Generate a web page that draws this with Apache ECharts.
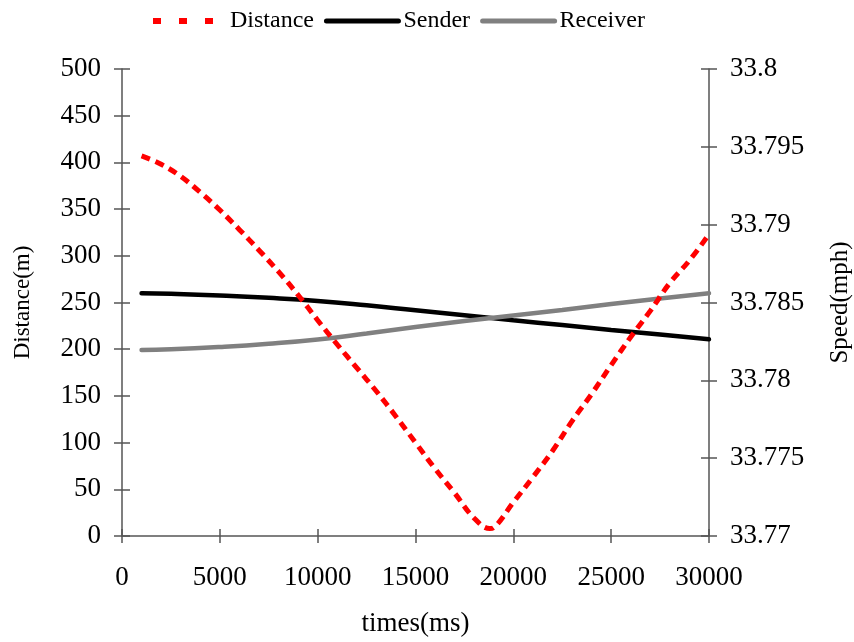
<!DOCTYPE html>
<html>
<head>
<meta charset="utf-8">
<script src="https://cdn.jsdelivr.net/npm/echarts@6/dist/echarts.min.js"></script>
<style>html,body{margin:0;padding:0;background:#fff}#c{width:854px;height:642px}</style>
</head>
<body>
<div id="c"></div>
<script>
// ---- data ----
const seriesNames = ['Distance', 'Sender', 'Receiver'];
const distTimes = [1000,2000,3000,4000,5000,6000,7000,8000,9000,10000,11000,12000,13000,14000,15000,16000,17000,18000,18800,19000,20000,21000,22000,23000,24000,25000,26000,27000,28000,29000,30000];
const distValues = [407,398,385,368,349,328,306,283,258,231,205,180,155,128,100,72,46,19,8,9,36,63,91,123,152,183,213,241,271,295,323];
const speedTimes = [1000,2500,5000,7500,10000,12500,15000,17500,20000,22500,25000,27500,30000];
const senderSpeed = [33.78560,33.78556,33.78545,33.78530,33.78510,33.78482,33.78450,33.78418,33.78386,33.78355,33.78324,33.78294,33.78264];
const receiverSpeed = [33.78195,33.78199,33.78214,33.78235,33.78263,33.78301,33.78342,33.78381,33.78417,33.78452,33.78490,33.78526,33.78559];
const xTicks = {min: 0, max: 30000, interval: 5000};
const yLeftTicks = {min: 0, max: 500, interval: 50};
const yRightTicks = {min: 33.77, max: 33.8, interval: 0.005};

const zip = (a, b) => a.map((v, i) => [v, b[i]]);
const FONT = '"Liberation Serif", "Times New Roman", serif';
const AX = '#555';
const tickStyle = () => ({color: AX, width: 1.5});
const hiddenLine = () => ({show: true, onZero: false, lineStyle: {color: 'rgba(0,0,0,0)', width: 1}});
const blankLabel = () => ({show: true, formatter: () => '', color: 'rgba(0,0,0,0)'});
const gridRect = () => ({left: 122, right: 145, top: 69, bottom: 106, containLabel: false, outerBoundsMode: 'none'});

const chart = echarts.init(document.getElementById('c'));
chart.setOption({
  animation: false,
  backgroundColor: '#fff',
  textStyle: {fontFamily: FONT, color: '#000'},
  legend: {
    left: 145, top: 4, orient: 'horizontal',
    itemWidth: 72, itemHeight: 14, itemGap: 10,
    itemStyle: {opacity: 0},
    textStyle: {fontFamily: FONT, fontSize: 24, color: '#000'},
    data: [
      {name: seriesNames[0], itemStyle: {opacity: 0}, lineStyle: {color: '#ff0000', width: 6, type: [8, 18]}},
      {name: seriesNames[1], itemStyle: {opacity: 0}, lineStyle: {color: '#000', width: 5}},
      {name: seriesNames[2], itemStyle: {opacity: 0}, lineStyle: {color: '#808080', width: 5}}
    ]
  },
  grid: [gridRect()],
  xAxis: [{
    type: 'value', min: xTicks.min, max: xTicks.max, interval: xTicks.interval, position: 'bottom',
    name: 'times(ms)', nameLocation: 'middle', nameGap: 74,
    nameTextStyle: {fontFamily: FONT, fontSize: 27, color: '#000'},
    axisLine: {show: true, onZero: false, lineStyle: tickStyle()},
    axisTick: {show: true, inside: false, length: 7, lineStyle: tickStyle()},
    axisLabel: {fontFamily: FONT, fontSize: 27, color: '#000', margin: 28, formatter: v => String(v)},
    splitLine: {show: false}
  }, {
    type: 'value', min: xTicks.min, max: xTicks.max, interval: xTicks.interval, position: 'bottom',
    axisLine: hiddenLine(), axisLabel: blankLabel(), splitLine: {show: false},
    axisTick: {show: true, inside: true, length: 7, lineStyle: tickStyle()}
  }],
  yAxis: [{
    type: 'value', position: 'left', min: yLeftTicks.min, max: yLeftTicks.max, interval: yLeftTicks.interval,
    name: 'Distance(m)', nameLocation: 'middle', nameGap: 88, nameRotate: 90,
    nameTextStyle: {fontFamily: FONT, fontSize: 23, color: '#000'},
    axisLine: {show: true, onZero: false, lineStyle: tickStyle()},
    axisTick: {show: true, inside: false, length: 8, lineStyle: tickStyle()},
    axisLabel: {fontFamily: FONT, fontSize: 27, color: '#000', margin: 21},
    splitLine: {show: false}
  }, {
    type: 'value', position: 'right', min: yRightTicks.min, max: yRightTicks.max, interval: yRightTicks.interval,
    name: 'Speed(mph)', nameLocation: 'middle', nameGap: 119, nameRotate: 90,
    nameTextStyle: {fontFamily: FONT, fontSize: 25, color: '#000'},
    axisLine: {show: true, onZero: false, lineStyle: tickStyle()},
    axisTick: {show: true, inside: false, length: 8, lineStyle: tickStyle()},
    axisLabel: {fontFamily: FONT, fontSize: 27, color: '#000', margin: 21, formatter: v => String(+v.toFixed(3))},
    splitLine: {show: false}
  }, {
    type: 'value', position: 'left', min: yLeftTicks.min, max: yLeftTicks.max, interval: yLeftTicks.interval,
    axisLine: hiddenLine(), axisLabel: blankLabel(), splitLine: {show: false},
    axisTick: {show: true, inside: true, length: 8, lineStyle: tickStyle()}
  }, {
    type: 'value', position: 'right', min: yRightTicks.min, max: yRightTicks.max, interval: yRightTicks.interval,
    axisLine: hiddenLine(), axisLabel: blankLabel(), splitLine: {show: false},
    axisTick: {show: true, inside: true, length: 8, lineStyle: tickStyle()}
  }],
  series: [{
    name: seriesNames[0], type: 'line', xAxisIndex: 0, yAxisIndex: 0,
    data: zip(distTimes, distValues), showSymbol: false, symbol: 'none', smooth: 0.4, z: 3,
    itemStyle: {color: '#ff0000'},
    lineStyle: {color: '#ff0000', width: 5, type: [9, 6]}
  }, {
    name: seriesNames[1], type: 'line', xAxisIndex: 0, yAxisIndex: 1,
    data: zip(speedTimes, senderSpeed), showSymbol: false, symbol: 'none', smooth: true, z: 2,
    itemStyle: {color: '#000'},
    lineStyle: {color: '#000', width: 4.5, cap: 'round'}
  }, {
    name: seriesNames[2], type: 'line', xAxisIndex: 0, yAxisIndex: 1,
    data: zip(speedTimes, receiverSpeed), showSymbol: false, symbol: 'none', smooth: true, z: 2,
    itemStyle: {color: '#808080'},
    lineStyle: {color: '#808080', width: 4.5, cap: 'round'}
  }, {
    // invisible copies so the inside-tick overlay axes have data
    name: '_ticksLeft', type: 'line', xAxisIndex: 1, yAxisIndex: 2, silent: true,
    data: zip(distTimes, distValues), showSymbol: false, symbol: 'none',
    lineStyle: {opacity: 0}, itemStyle: {opacity: 0}
  }, {
    name: '_ticksRight', type: 'line', xAxisIndex: 1, yAxisIndex: 3, silent: true,
    data: zip(speedTimes, senderSpeed), showSymbol: false, symbol: 'none',
    lineStyle: {opacity: 0}, itemStyle: {opacity: 0}
  }]
});
</script>
</body>
</html>
